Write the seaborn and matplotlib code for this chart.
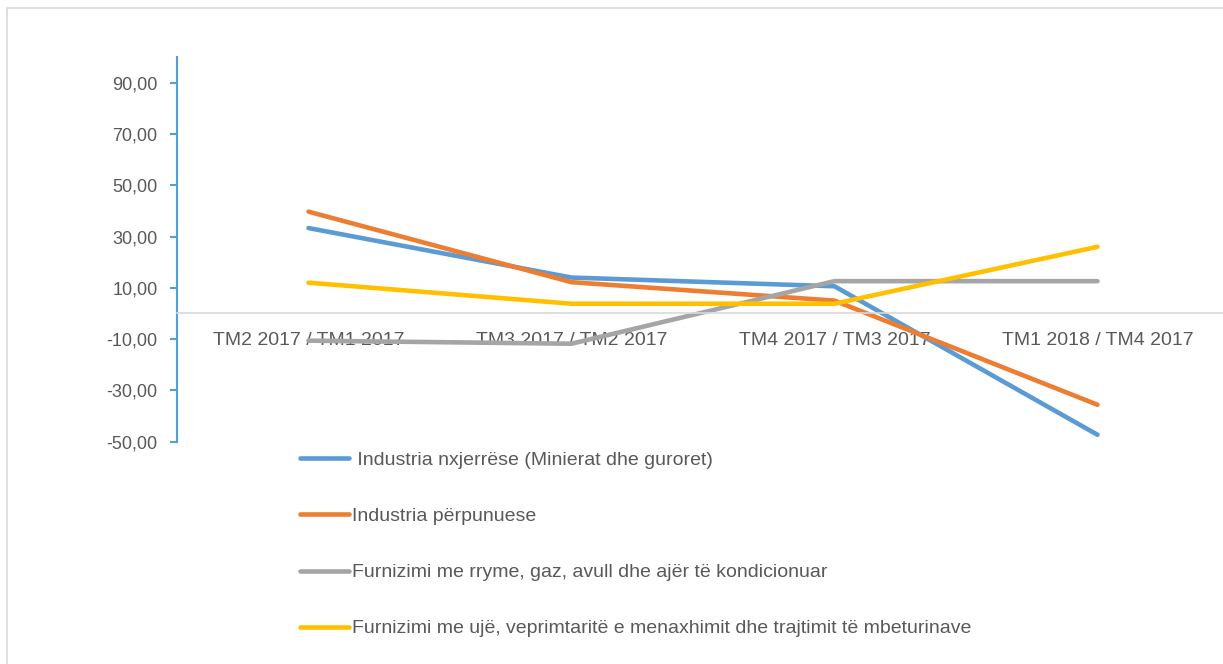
import pandas as pd
import matplotlib.pyplot as plt
import seaborn as sns
from matplotlib.patches import Rectangle

# -----------------------------------
# Data
# -----------------------------------
periods = [
    "TM2 2017 / TM1 2017",
    "TM3 2017 / TM2 2017",
    "TM4 2017 / TM3 2017",
    "TM1 2018 / TM4 2017",
]
series_names = [
    " Industria nxjerrëse (Minierat dhe guroret)",
    "Industria përpunuese",
    "Furnizimi me rryme, gaz, avull dhe ajër të kondicionuar",
    "Furnizimi me ujë, veprimtaritë e menaxhimit dhe trajtimit të mbeturinave",
]
nxjerrese = [33.3, 14.0, 10.6, -47.3]
perpunuese = [39.7, 12.2, 5.0, -35.6]
energjia = [-10.6, -11.8, 12.6, 12.6]
uji = [12.0, 3.8, 3.8, 26.0]

y_ticks = [-50, -30, -10, 10, 30, 50, 70, 90]
y_tick_labels = ["-50,00", "-30,00", "-10,00", "10,00", "30,00", "50,00", "70,00", "90,00"]

colors = ["#5B9BD5", "#ED7D31", "#A5A5A5", "#FFC000"]

df = pd.DataFrame({
    "period": periods * 4,
    "series": [s for s in series_names for _ in periods],
    "value": nxjerrese + perpunuese + energjia + uji,
})

# -----------------------------------
# Plot Style
# -----------------------------------
sns.set_style("white")
plt.rcParams["font.family"] = ["Liberation Sans", "DejaVu Sans"]
text_color = "#595959"

fig = plt.figure(figsize=(12.23, 6.64), dpi=100)
ax = fig.add_axes([177 / 1223, (664 - 441.7) / 664, 1052 / 1223, 384.7 / 664])

sns.lineplot(
    data=df,
    x="period",
    y="value",
    hue="series",
    hue_order=series_names,
    palette=colors,
    sort=False,
    linewidth=3.3,
    legend=False,
    ax=ax,
)
for line in ax.lines:
    line.set_solid_capstyle("round")
    line.set_solid_joinstyle("round")

ax.set_xlim(-0.5, 3.5)
ax.set_ylim(-50, 100)
ax.set_yticks(y_ticks)
ax.set_yticklabels(y_tick_labels)
ax.set_xlabel("")
ax.set_ylabel("")

for side in ["top", "right"]:
    ax.spines[side].set_visible(False)
ax.spines["left"].set_color("#5B9BD5")
ax.spines["left"].set_linewidth(1.5)
ax.spines["bottom"].set_position(("data", 0))
ax.spines["bottom"].set_color("#D9D9D9")
ax.spines["bottom"].set_linewidth(1.2)

ax.tick_params(axis="y", length=5, width=1.5, color="#5B9BD5",
               labelsize=13, labelcolor=text_color, pad=9, left=True)
ax.tick_params(axis="x", length=0, labelsize=14, labelcolor=text_color, pad=13.5)

ax.legend(
    ax.lines,
    series_names,
    loc="upper left",
    bbox_to_anchor=(300 / 1223, 1 - 451.5 / 664),
    bbox_transform=fig.transFigure,
    frameon=False,
    borderpad=0,
    borderaxespad=0,
    handlelength=2.5,
    handletextpad=0.2,
    labelspacing=1.98,
    fontsize=14,
    labelcolor=text_color,
)

# light chart border (top and left edges visible)
fig.patches.append(Rectangle((7 / 1223, -0.1), 1.2, 1.1 - 8 / 664,
                             transform=fig.transFigure, fill=False,
                             edgecolor="#D9D9D9", linewidth=1.2))

plt.savefig("out.png", dpi=100)
plt.close()
